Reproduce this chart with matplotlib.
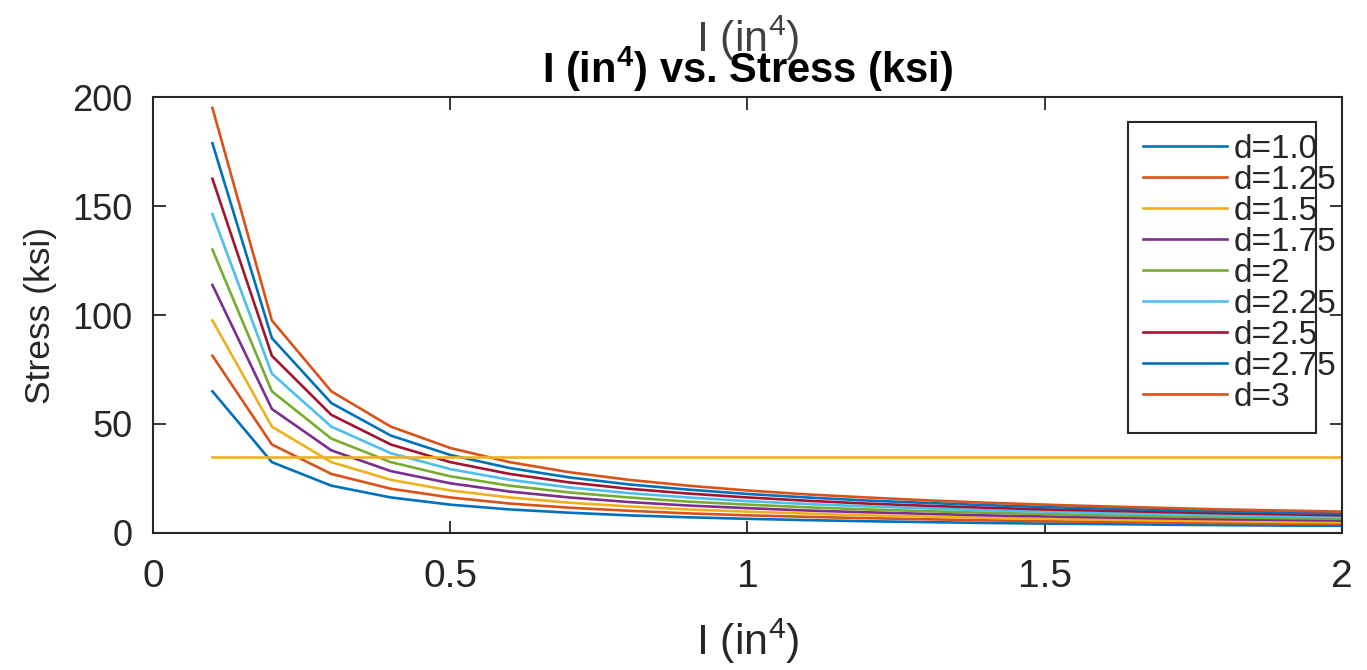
import matplotlib
matplotlib.use("Agg")
import matplotlib.pyplot as plt
from matplotlib.patches import Rectangle

plt.rcParams["font.family"] = ["Liberation Sans", "DejaVu Sans"]
plt.rcParams["mathtext.fontset"] = "custom"
plt.rcParams["mathtext.rm"] = "Liberation Sans"
plt.rcParams["mathtext.bf"] = "Liberation Sans:bold"

# ── data ────────────────────────────────────────────────────────────────────
I_vals = [0.1, 0.2, 0.3, 0.4, 0.5, 0.6, 0.7, 0.8, 0.9, 1.0,
          1.1, 1.2, 1.3, 1.4, 1.5, 1.6, 1.7, 1.8, 1.9, 2.0]

labels = ["d=1.0", "d=1.25", "d=1.5", "d=1.75", "d=2",
          "d=2.25", "d=2.5", "d=2.75", "d=3"]

stress_d100 = [65.0, 32.5, 21.7, 16.3, 13.0, 10.8, 9.3, 8.1, 7.2, 6.5,
               5.9, 5.4, 5.0, 4.6, 4.3, 4.1, 3.8, 3.6, 3.4, 3.3]
stress_d125 = [81.3, 40.6, 27.1, 20.3, 16.3, 13.5, 11.6, 10.2, 9.0, 8.1,
               7.4, 6.8, 6.3, 5.8, 5.4, 5.1, 4.8, 4.5, 4.3, 4.1]
stress_d150 = [97.5, 48.8, 32.5, 24.4, 19.5, 16.3, 13.9, 12.2, 10.8, 9.8,
               8.9, 8.1, 7.5, 7.0, 6.5, 6.1, 5.7, 5.4, 5.1, 4.9]
stress_d175 = [113.8, 56.9, 37.9, 28.4, 22.8, 19.0, 16.3, 14.2, 12.6, 11.4,
               10.3, 9.5, 8.8, 8.1, 7.6, 7.1, 6.7, 6.3, 6.0, 5.7]
stress_d200 = [130.0, 65.0, 43.3, 32.5, 26.0, 21.7, 18.6, 16.3, 14.4, 13.0,
               11.8, 10.8, 10.0, 9.3, 8.7, 8.1, 7.6, 7.2, 6.8, 6.5]
stress_d225 = [146.3, 73.1, 48.8, 36.6, 29.3, 24.4, 20.9, 18.3, 16.3, 14.6,
               13.3, 12.2, 11.3, 10.4, 9.8, 9.1, 8.6, 8.1, 7.7, 7.3]
stress_d250 = [162.5, 81.3, 54.2, 40.6, 32.5, 27.1, 23.2, 20.3, 18.1, 16.3,
               14.8, 13.5, 12.5, 11.6, 10.8, 10.2, 9.6, 9.0, 8.6, 8.1]
stress_d275 = [178.8, 89.4, 59.6, 44.7, 35.8, 29.8, 25.5, 22.3, 19.9, 17.9,
               16.3, 14.9, 13.8, 12.8, 11.9, 11.2, 10.5, 9.9, 9.4, 8.9]
stress_d300 = [195.0, 97.5, 65.0, 48.8, 39.0, 32.5, 27.9, 24.4, 21.7, 19.5,
               17.7, 16.3, 15.0, 13.9, 13.0, 12.2, 11.5, 10.8, 10.3, 9.8]

allowable = 35  # ksi, horizontal limit line

series = [stress_d100, stress_d125, stress_d150, stress_d175, stress_d200,
          stress_d225, stress_d250, stress_d275, stress_d300]

# MATLAB default colour order
colors = ["#0072BD", "#D95319", "#EDB120", "#7E2F8E", "#77AC30",
          "#4DBEEE", "#A2142F", "#0072BD", "#D95319"]

# ── plot ────────────────────────────────────────────────────────────────────
fig = plt.figure(figsize=(13.67, 6.70), dpi=100)
ax = fig.add_axes([0.1119, 0.2045, 0.8698, 0.6507])

lines = []
for s, c, lab in zip(series, colors, labels):
    ln, = ax.plot(I_vals, s, color=c, linewidth=1.9, label=lab)
    lines.append(ln)
ax.plot([I_vals[0], I_vals[-1]], [allowable, allowable], color="#EDB120", linewidth=1.9)

ax.set_xlim(0, 2)
ax.set_ylim(0, 200)
ax.set_xticks([0, 0.5, 1, 1.5, 2])
ax.set_xticklabels(["0", "0.5", "1", "1.5", "2"])
ax.set_yticks([0, 50, 100, 150, 200])

axc = "#262626"
ax.tick_params(direction="in", length=9, width=1.3, top=True, right=True,
               colors=axc)
ax.tick_params(axis="x", labelsize=28, pad=19)
ax.tick_params(axis="y", labelsize=26, pad=15)
for sp in ax.spines.values():
    sp.set_color(axc)
    sp.set_linewidth(1.5)

ax.set_xlabel(r"I (in$^4$)", fontsize=31, color=axc, labelpad=15)
ax.set_ylabel("Stress (ksi)", fontsize=25.5, color=axc, labelpad=11)
ax.set_title(r"I (in$^\mathbf{4}$) vs. Stress (ksi)", fontsize=30,
             fontweight="bold", color="black", pad=10)
fig.text(0.547, 0.943, r"I (in$^4$)", fontsize=31, color="#404040",
         ha="center", va="center")

# legend: text spills past the frame like the original export
leg = ax.legend(handles=lines, loc="upper left", bbox_to_anchor=(0.833, 0.916),
                frameon=False, fontsize=24, handlelength=2.5, handletextpad=0.2,
                labelspacing=0.0, borderaxespad=0, borderpad=0)
for t in leg.get_texts():
    t.set_color(axc)
ax.add_patch(Rectangle((0.820, 0.229), 0.158, 0.714, transform=ax.transAxes,
                       fill=False, edgecolor=axc, linewidth=1.5, zorder=5))
ax.add_patch(Rectangle((0.820, 0.229), 0.158, 0.714, transform=ax.transAxes,
                       facecolor="white", edgecolor="none", zorder=2.5))
leg.set_zorder(6)

fig.savefig("out.png", dpi=100)
